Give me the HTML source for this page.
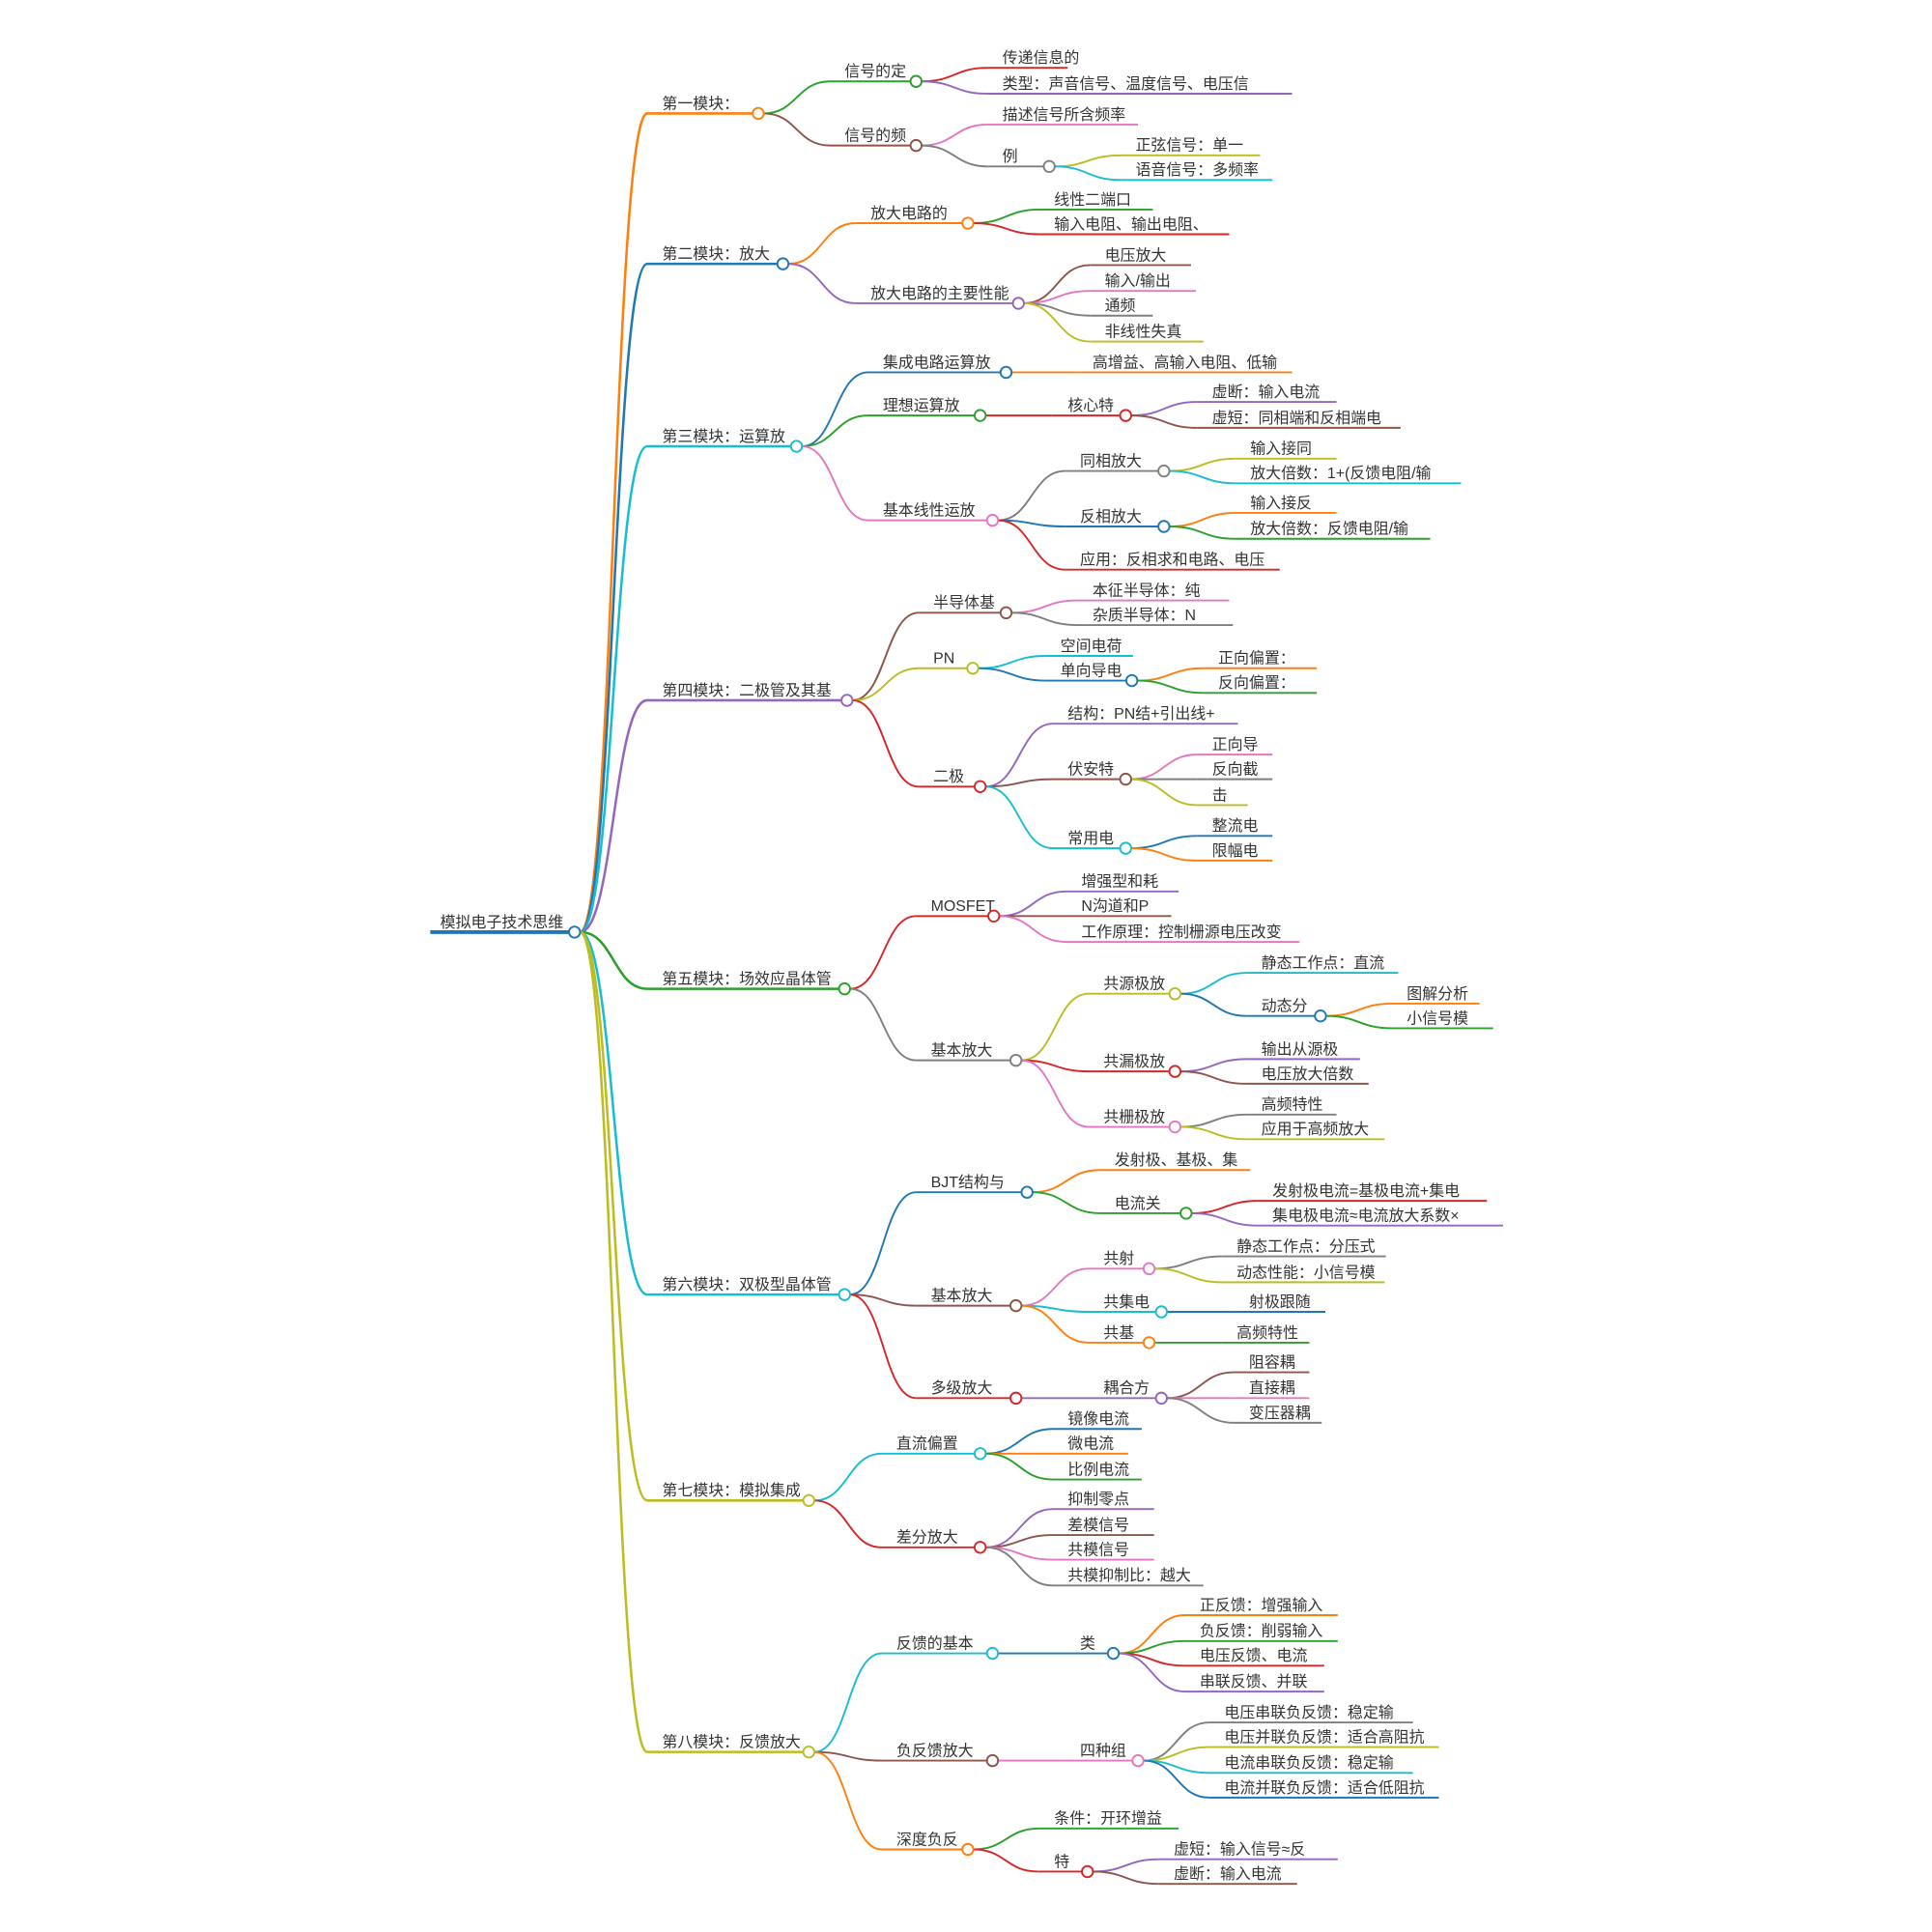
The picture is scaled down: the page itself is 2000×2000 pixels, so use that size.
<!DOCTYPE html>
<html><head><meta charset="utf-8"><style>
html,body{margin:0;padding:0;background:#fff;}
svg{display:block;}
text{font-family:"Liberation Sans","Noto Sans CJK SC",sans-serif;font-size:12.5px;fill:#333;}
</style></head><body>
<svg id="m" width="2000" height="2000" viewBox="0 0 1567 1567" xmlns="http://www.w3.org/2000/svg">
<g id="L"></g><g id="T">
<text id="n0" x="357" y="752" e="466" s="#1f77b4" w="3">模拟电子技术思维</text>

<text id="a" p="n0" x="537" y="88" e="615" s="#ff7f0e" w="2">第一模块：</text>
<text id="a1" p="a" x="685" y="62" e="743" s="#2ca02c">信号的定</text>
<text p="a1" x="813" y="51" e="866" s="#d62728">传递信息的</text>
<text p="a1" x="813" y="72" e="1048" s="#9467bd">类型：声音信号、温度信号、电压信</text>
<text id="a2" p="a" x="685" y="114" e="743" s="#8c564b">信号的频</text>
<text p="a2" x="813" y="97" e="923" s="#e377c2">描述信号所含频率</text>
<text id="a3" p="a2" x="813" y="131" e="851" s="#7f7f7f">例</text>
<text p="a3" x="921" y="122" e="1022" s="#bcbd22">正弦信号：单一</text>
<text p="a3" x="921" y="142" e="1032" s="#17becf">语音信号：多频率</text>

<text id="b" p="n0" x="537" y="210" e="635" s="#1f77b4" w="2">第二模块：放大</text>
<text id="b1" p="b" x="706" y="177" e="785" s="#ff7f0e">放大电路的</text>
<text p="b1" x="855" y="166" e="935" s="#2ca02c">线性二端口</text>
<text p="b1" x="855" y="186" e="997" s="#d62728">输入电阻、输出电阻、</text>
<text id="b2" p="b" x="706" y="242" e="826" s="#9467bd">放大电路的主要性能</text>
<text p="b2" x="896" y="211" e="966" s="#8c564b">电压放大</text>
<text p="b2" x="896" y="232" e="970" s="#e377c2">输入/输出</text>
<text p="b2" x="896" y="252" e="935" s="#7f7f7f">通频</text>
<text p="b2" x="896" y="273" e="976" s="#bcbd22">非线性失真</text>

<text id="c" p="n0" x="537" y="358" e="646" s="#17becf" w="2">第三模块：运算放</text>
<text id="c1" p="c" x="716" y="298" e="816" s="#1f77b4">集成电路运算放</text>
<text p="c1" x="886" y="298" e="1048" s="#ff7f0e" st="873">高增益、高输入电阻、低输</text>
<text id="c2" p="c" x="716" y="333" e="795" s="#2ca02c">理想运算放</text>
<text id="c3" p="c2" x="866" y="333" e="913" s="#d62728" st="853">核心特</text>
<text p="c3" x="983" y="322" e="1084" s="#9467bd">虚断：输入电流</text>
<text p="c3" x="983" y="343" e="1136" s="#8c564b">虚短：同相端和反相端电</text>
<text id="c4" p="c" x="716" y="418" e="805" s="#e377c2">基本线性运放</text>
<text id="c5" p="c4" x="876" y="378" e="944" s="#7f7f7f">同相放大</text>
<text p="c5" x="1014" y="368" e="1084" s="#bcbd22">输入接同</text>
<text p="c5" x="1014" y="388" e="1185" s="#17becf">放大倍数：1+(反馈电阻/输</text>
<text id="c6" p="c4" x="876" y="423" e="944" s="#1f77b4">反相放大</text>
<text p="c6" x="1014" y="412" e="1084" s="#ff7f0e">输入接反</text>
<text p="c6" x="1014" y="433" e="1160" s="#2ca02c">放大倍数：反馈电阻/输</text>
<text p="c4" x="876" y="458" e="1038" s="#d62728">应用：反相求和电路、电压</text>

<text id="d" p="n0" x="537" y="564" e="687" s="#9467bd" w="2">第四模块：二极管及其基</text>
<text id="d1" p="d" x="757" y="493" e="816" s="#8c564b">半导体基</text>
<text p="d1" x="886" y="483" e="997" s="#e377c2">本征半导体：纯</text>
<text p="d1" x="886" y="503" e="1000" s="#7f7f7f">杂质半导体：N</text>
<text id="d2" p="d" x="757" y="538" e="789" s="#bcbd22">PN</text>
<text p="d2" x="860" y="528" e="919" s="#17becf">空间电荷</text>
<text id="d3" p="d2" x="860" y="548" e="918" s="#1f77b4">单向导电</text>
<text p="d3" x="988" y="538" e="1068" s="#ff7f0e">正向偏置：</text>
<text p="d3" x="988" y="558" e="1068" s="#2ca02c">反向偏置：</text>
<text id="d4" p="d" x="757" y="634" e="795" s="#d62728">二极</text>
<text p="d4" x="866" y="583" e="1004" s="#9467bd">结构：PN结+引出线+</text>
<text id="d5" p="d4" x="866" y="628" e="913" s="#8c564b">伏安特</text>
<text p="d5" x="983" y="608" e="1032" s="#e377c2">正向导</text>
<text p="d5" x="983" y="628" e="1032" s="#7f7f7f">反向截</text>
<text p="d5" x="983" y="649" e="1012" s="#bcbd22">击</text>
<text id="d6" p="d4" x="866" y="684" e="913" s="#17becf">常用电</text>
<text p="d6" x="983" y="674" e="1032" s="#1f77b4">整流电</text>
<text p="d6" x="983" y="694" e="1032" s="#ff7f0e">限幅电</text>

<text id="e" p="n0" x="537" y="798" e="685" s="#2ca02c" w="2">第五模块：场效应晶体管</text>
<text id="e1" p="e" x="755" y="739" e="806" s="#d62728">MOSFET</text>
<text p="e1" x="877" y="719" e="956" s="#9467bd">增强型和耗</text>
<text p="e1" x="877" y="739" e="950" s="#8c564b">N沟道和P</text>
<text p="e1" x="877" y="760" e="1054" s="#e377c2">工作原理：控制栅源电压改变</text>
<text id="e2" p="e" x="755" y="856" e="824" s="#7f7f7f">基本放大</text>
<text id="e3" p="e2" x="895" y="802" e="953" s="#bcbd22">共源极放</text>
<text p="e3" x="1023" y="785" e="1134" s="#17becf">静态工作点：直流</text>
<text id="e4" p="e3" x="1023" y="820" e="1071" s="#1f77b4">动态分</text>
<text p="e4" x="1141" y="810" e="1200" s="#ff7f0e">图解分析</text>
<text p="e4" x="1141" y="830" e="1211" s="#2ca02c">小信号模</text>
<text id="e5" p="e2" x="895" y="865" e="953" s="#d62728">共漏极放</text>
<text p="e5" x="1023" y="855" e="1103" s="#9467bd">输出从源极</text>
<text p="e5" x="1023" y="875" e="1110" s="#8c564b">电压放大倍数</text>
<text id="e6" p="e2" x="895" y="910" e="953" s="#e377c2">共栅极放</text>
<text p="e6" x="1023" y="900" e="1084" s="#7f7f7f">高频特性</text>
<text p="e6" x="1023" y="920" e="1123" s="#bcbd22">应用于高频放大</text>

<text id="f" p="n0" x="537" y="1046" e="685" s="#17becf" w="2">第六模块：双极型晶体管</text>
<text id="f1" p="f" x="755" y="963" e="833" s="#1f77b4">BJT结构与</text>
<text p="f1" x="904" y="945" e="1014" s="#ff7f0e">发射极、基极、集</text>
<text id="f2" p="f1" x="904" y="980" e="962" s="#2ca02c">电流关</text>
<text p="f2" x="1032" y="970" e="1206" s="#d62728">发射极电流=基极电流+集电</text>
<text p="f2" x="1032" y="990" e="1219" s="#9467bd">集电极电流≈电流放大系数×</text>
<text id="f3" p="f" x="755" y="1055" e="824" s="#8c564b">基本放大</text>
<text id="f4" p="f3" x="895" y="1025" e="932" s="#e377c2">共射</text>
<text p="f4" x="1003" y="1015" e="1124" s="#7f7f7f">静态工作点：分压式</text>
<text p="f4" x="1003" y="1036" e="1123" s="#bcbd22">动态性能：小信号模</text>
<text id="f5" p="f3" x="895" y="1060" e="942" s="#17becf">共集电</text>
<text p="f5" x="1013" y="1060" e="1075" s="#1f77b4">射极跟随</text>
<text id="f6" p="f3" x="895" y="1085" e="932" s="#ff7f0e">共基</text>
<text p="f6" x="1003" y="1085" e="1062" s="#2ca02c">高频特性</text>
<text id="f7" p="f" x="755" y="1130" e="824" s="#d62728">多级放大</text>
<text id="f8" p="f7" x="895" y="1130" e="942" s="#9467bd">耦合方</text>
<text p="f8" x="1013" y="1109" e="1062" s="#8c564b">阻容耦</text>
<text p="f8" x="1013" y="1130" e="1062" s="#e377c2">直接耦</text>
<text p="f8" x="1013" y="1150" e="1072" s="#7f7f7f">变压器耦</text>

<text id="g" p="n0" x="537" y="1213" e="656" s="#bcbd22" w="2">第七模块：模拟集成</text>
<text id="g1" p="g" x="727" y="1175" e="795" s="#17becf">直流偏置</text>
<text p="g1" x="866" y="1155" e="926" s="#1f77b4">镜像电流</text>
<text p="g1" x="866" y="1175" e="915" s="#ff7f0e">微电流</text>
<text p="g1" x="866" y="1196" e="926" s="#2ca02c">比例电流</text>
<text id="g2" p="g" x="727" y="1251" e="795" s="#d62728">差分放大</text>
<text p="g2" x="866" y="1220" e="936" s="#9467bd">抑制零点</text>
<text p="g2" x="866" y="1241" e="936" s="#8c564b">差模信号</text>
<text p="g2" x="866" y="1261" e="936" s="#e377c2">共模信号</text>
<text p="g2" x="866" y="1282" e="976" s="#7f7f7f">共模抑制比：越大</text>

<text id="h" p="n0" x="537" y="1417" e="656" s="#bcbd22" w="2">第八模块：反馈放大</text>
<text id="h1" p="h" x="727" y="1337" e="805" s="#17becf">反馈的基本</text>
<text id="h2" p="h1" x="876" y="1337" e="903" s="#1f77b4" st="863">类</text>
<text p="h2" x="973" y="1306" e="1085" s="#ff7f0e">正反馈：增强输入</text>
<text p="h2" x="973" y="1327" e="1085" s="#2ca02c">负反馈：削弱输入</text>
<text p="h2" x="973" y="1347" e="1074" s="#d62728">电压反馈、电流</text>
<text p="h2" x="973" y="1368" e="1074" s="#9467bd">串联反馈、并联</text>
<text id="h3" p="h" x="727" y="1424" e="805" s="#8c564b">负反馈放大</text>
<text id="h4" p="h3" x="876" y="1424" e="923" s="#e377c2" st="863">四种组</text>
<text p="h4" x="993" y="1393" e="1146" s="#7f7f7f">电压串联负反馈：稳定输</text>
<text p="h4" x="993" y="1413" e="1167" s="#bcbd22">电压并联负反馈：适合高阻抗</text>
<text p="h4" x="993" y="1434" e="1146" s="#17becf">电流串联负反馈：稳定输</text>
<text p="h4" x="993" y="1454" e="1167" s="#1f77b4">电流并联负反馈：适合低阻抗</text>
<text id="h5" p="h" x="727" y="1496" e="785" s="#ff7f0e">深度负反</text>
<text p="h5" x="855" y="1479" e="956" s="#2ca02c">条件：开环增益</text>
<text id="h6" p="h5" x="855" y="1514" e="882" s="#d62728" st="842">特</text>
<text p="h6" x="952" y="1504" e="1085" s="#9467bd">虚短：输入信号≈反</text>
<text p="h6" x="952" y="1524" e="1052" s="#8c564b">虚断：输入电流</text>
</g><g id="C"></g>
</svg>
<script>
(function(){
var NS="http://www.w3.org/2000/svg";
var L=document.getElementById("L"),C=document.getElementById("C");
var ts=[].slice.call(document.querySelectorAll("#T text"));
var byId={},hasKid={};
ts.forEach(function(t){if(t.id)byId[t.id]=t;var p=t.getAttribute("p");if(p)hasKid[p]=1;});
function mk(n,a,par){var e=document.createElementNS(NS,n);for(var k in a)e.setAttribute(k,a[k]);par.appendChild(e);return e;}
ts.forEach(function(t){
 var x=+t.getAttribute("x"),y=+t.getAttribute("y")+4,e=+t.getAttribute("e"),s=t.getAttribute("s");
 var w=t.getAttribute("w")||1.5;
 var st=t.getAttribute("st");var sx=st?+st:(t.id==="n0"?349:x-12);
 var circ=t.id&&hasKid[t.id];
 mk("line",{x1:sx,y1:y,x2:circ?e-4.5:e,y2:y,stroke:s,"stroke-width":w},L);
 var p=t.getAttribute("p");
 if(p){var pt=byId[p];var px=+pt.getAttribute("e")+4.5,py=+pt.getAttribute("y")+4;var mx=(px+sx)/2;
  mk("path",{d:"M"+px+","+py+" C"+mx+","+py+" "+mx+","+y+" "+sx+","+y,fill:"none",stroke:s,"stroke-width":w},L);}
 if(circ)mk("circle",{cx:e,cy:y,r:4.5,fill:"#fff",stroke:s,"stroke-width":1.5},C);
});
})();
</script>
</body></html>
